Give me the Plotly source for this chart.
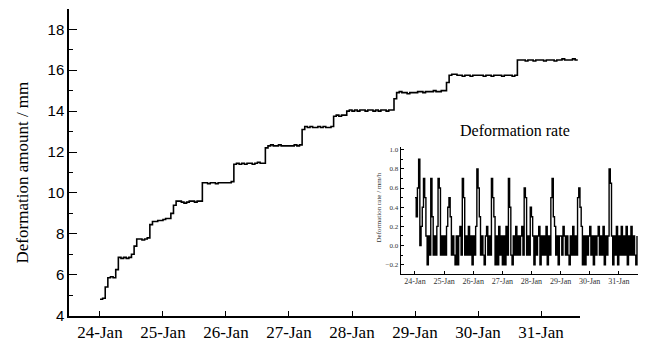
import plotly.graph_objects as go
import pandas as pd

# ---------------- data ----------------
start_time = "2020-01-24 00:00"

# hourly deformation amount (mm), starting 24-Jan 00:00
amount = [
    # 24-Jan
    4.8, 4.85, 5.4, 5.85, 5.9, 5.85, 6.25, 6.85, 6.8, 6.85, 6.8, 6.85,
    7.0, 7.4, 7.75, 7.75, 7.7, 7.75, 7.8, 8.45, 8.6, 8.6, 8.65, 8.65,
    # 25-Jan
    8.7, 8.75, 8.75, 9.0, 9.4, 9.6, 9.6, 9.55, 9.5, 9.55, 9.6, 9.6,
    9.55, 9.6, 9.6, 10.5, 10.5, 10.45, 10.5, 10.5, 10.45, 10.5, 10.5, 10.5,
    # 26-Jan
    10.5, 10.5, 10.55, 11.4, 11.45, 11.4, 11.45, 11.4, 11.45, 11.45, 11.4, 11.45,
    11.5, 11.45, 11.45, 12.2, 12.3, 12.35, 12.3, 12.3, 12.35, 12.3, 12.3, 12.3,
    # 27-Jan
    12.3, 12.3, 12.35, 12.3, 12.35, 13.1, 13.25, 13.2, 13.25, 13.2, 13.2, 13.25,
    13.2, 13.25, 13.2, 13.2, 13.25, 13.75, 13.8, 13.75, 13.8, 13.8, 14.0, 14.05,
    # 28-Jan
    14.0, 14.05, 14.0, 14.05, 14.05, 14.0, 14.05, 14.05, 14.0, 14.05, 14.0, 14.05,
    14.05, 14.0, 14.05, 14.05, 14.6, 14.9, 14.95, 14.9, 14.9, 14.85, 14.9, 14.9,
    # 29-Jan
    14.9, 14.95, 14.95, 14.9, 14.95, 14.95, 14.95, 15.0, 14.95, 14.95, 15.0, 15.0,
    15.4, 15.75, 15.8, 15.8, 15.75, 15.75, 15.7, 15.75, 15.75, 15.7, 15.75, 15.75,
    # 30-Jan
    15.75, 15.75, 15.7, 15.75, 15.75, 15.7, 15.75, 15.75, 15.75, 15.7, 15.75, 15.75,
    15.75, 15.7, 15.75, 16.5, 16.5, 16.5, 16.45, 16.5, 16.5, 16.45, 16.5, 16.5,
    # 31-Jan
    16.5, 16.45, 16.5, 16.5, 16.5, 16.45, 16.5, 16.5, 16.55, 16.5, 16.5, 16.5,
    16.55, 16.5, 16.5,
]

# hourly deformation rate (mm/h), starting 24-Jan 00:00
rate = [
    # 24-Jan
    0.5, 0.3, 0.6, 0.9, 0.0, 0.2, 0.4, 0.7, 0.5, 0.1, -0.2, 0.1,
    -0.1, 0.7, 0.3, -0.1, 0.1, -0.1, 0.2, 0.7, 0.6, -0.1, 0.1, -0.1,
    # 25-Jan
    0.1, -0.1, 0.2, 0.4, 0.5, 0.3, -0.1, 0.1, -0.1, -0.2, 0.1, -0.2,
    0.1, 0.2, -0.1, 0.7, 0.5, -0.1, 0.1, -0.1, 0.2, -0.1, 0.1, -0.2,
    # 26-Jan
    0.1, -0.1, 0.2, 0.8, 0.6, 0.3, -0.1, 0.1, -0.1, -0.2, 0.1, 0.2,
    -0.1, 0.1, -0.1, 0.7, 0.5, 0.3, -0.2, 0.1, -0.2, 0.2, -0.1, 0.1,
    # 27-Jan
    -0.2, 0.1, -0.2, 0.2, -0.1, 0.7, 0.4, -0.1, -0.2, 0.1, -0.1, 0.2,
    -0.1, 0.1, -0.1, 0.1, 0.2, -0.1, 0.6, 0.5, -0.1, 0.1, -0.1, 0.4,
    # 28-Jan
    0.3, 0.1, -0.2, 0.1, -0.1, 0.1, 0.2, -0.2, 0.1, -0.1, 0.1, -0.1,
    0.2, -0.2, 0.1, -0.1, 0.5, 0.7, 0.3, 0.2, -0.1, 0.1, -0.2, 0.1,
    # 29-Jan
    0.1, -0.1, 0.2, 0.1, -0.1, 0.1, -0.1, -0.2, 0.1, -0.1, 0.2, -0.1,
    0.1, -0.1, 0.5, 0.6, 0.4, 0.2, -0.2, 0.1, -0.2, 0.1, -0.1, 0.1,
    # 30-Jan
    0.2, -0.1, 0.1, -0.2, 0.1, -0.1, 0.1, 0.2, -0.1, 0.1, -0.1, 0.2,
    -0.2, 0.1, -0.1, 0.1, 0.8, 0.65, 0.1, -0.2, 0.1, -0.1, 0.2, -0.2,
    # 31-Jan
    0.1, -0.1, 0.2, -0.1, 0.1, -0.1, 0.2, -0.2, 0.1, -0.1, 0.2, -0.1,
    0.1, -0.1, -0.2, 0.1,
]

main_y_ticks = [4, 6, 8, 10, 12, 14, 16, 18]
inset_y_ticks = [-0.2, 0.0, 0.2, 0.4, 0.6, 0.8, 1.0]
x_range = ["2020-01-23 12:12", "2020-01-31 14:51"]
inset_x_range = ["2020-01-23 12:13", "2020-01-31 15:50"]

t_amount = pd.date_range(start_time, periods=len(amount), freq="h")
t_rate = pd.date_range(start_time, periods=len(rate), freq="h")

# ---------------- figure ----------------
W, H = 646, 349
serif = "Liberation Serif, Times New Roman, serif"
sans = "Liberation Sans, Arial, sans-serif"

fig = go.Figure()
fig.add_trace(go.Scatter(x=t_amount, y=amount, mode="lines",
                         line=dict(color="black", width=1.6, shape="hv"),
                         xaxis="x", yaxis="y", showlegend=False))
fig.add_trace(go.Scatter(x=t_rate, y=rate, mode="lines",
                         line=dict(color="black", width=1.4, shape="hv"),
                         xaxis="x2", yaxis="y2", showlegend=False))

fig.update_layout(
    width=W, height=H,
    margin=dict(l=0, r=0, t=0, b=0),
    paper_bgcolor="white", plot_bgcolor="white",
    xaxis=dict(
        domain=[69 / W, 580 / W], range=x_range, type="date",
        tick0="2020-01-24", dtick=86400000, tickformat="%d-%b",
        showline=True, linecolor="black", linewidth=1.5,
        ticks="inside", ticklen=5, tickcolor="black", tickwidth=1.2,
        showgrid=False, zeroline=False,
        tickfont=dict(family=serif, size=17, color="black"),
        anchor="y",
    ),
    yaxis=dict(
        domain=[(H - 323) / H, (H - 8) / H], range=[4, 19],
        tickvals=main_y_ticks,
        showline=True, linecolor="black", linewidth=1.5,
        ticks="inside", ticklen=8, tickcolor="black", tickwidth=1.2,
        minor=dict(dtick=1, tick0=0, ticks="inside", ticklen=4,
                   tickcolor="black", tickwidth=1),
        showgrid=False, zeroline=False,
        tickfont=dict(family=sans, size=15, color="black"),
        anchor="x",
    ),
    xaxis2=dict(
        domain=[400.7 / W, 638 / W], range=inset_x_range, type="date",
        tick0="2020-01-24", dtick=86400000, tickformat="%d-%b",
        showline=True, linecolor="black", linewidth=1,
        ticks="inside", ticklen=3, tickcolor="black", tickwidth=1,
        showgrid=False, zeroline=False,
        tickfont=dict(family=serif, size=8, color="#333"),
        anchor="y2",
    ),
    yaxis2=dict(
        domain=[(H - 280) / H, (H - 150) / H], range=[-0.295, 1.027],
        tickvals=inset_y_ticks, tickformat=".1f",
        showline=True, linecolor="black", linewidth=1,
        ticks="inside", ticklen=3, tickcolor="black", tickwidth=1,
        minor=dict(dtick=0.1, tick0=0, ticks="inside", ticklen=2,
                   tickcolor="black", tickwidth=0.8),
        showgrid=False, zeroline=False,
        tickfont=dict(family=serif, size=7, color="#333"),
        anchor="x2",
    ),
    annotations=[
        dict(text="Deformation amount / mm", x=22 / W, y=(H - 176) / H,
             xref="paper", yref="paper", textangle=-90, showarrow=False,
             font=dict(family=serif, size=17, color="black"),
             xanchor="center", yanchor="middle"),
        dict(text="Deformation rate", x=515 / W, y=(H - 133) / H,
             xref="paper", yref="paper", showarrow=False,
             font=dict(family=serif, size=16, color="black"),
             xanchor="center", yanchor="middle"),
        dict(text="Deformation rate / mm/h", x=379 / W, y=(H - 212) / H,
             xref="paper", yref="paper", textangle=-90, showarrow=False,
             font=dict(family=serif, size=7, color="#333"),
             xanchor="center", yanchor="middle"),
    ],
)

fig.write_html("out.html")
